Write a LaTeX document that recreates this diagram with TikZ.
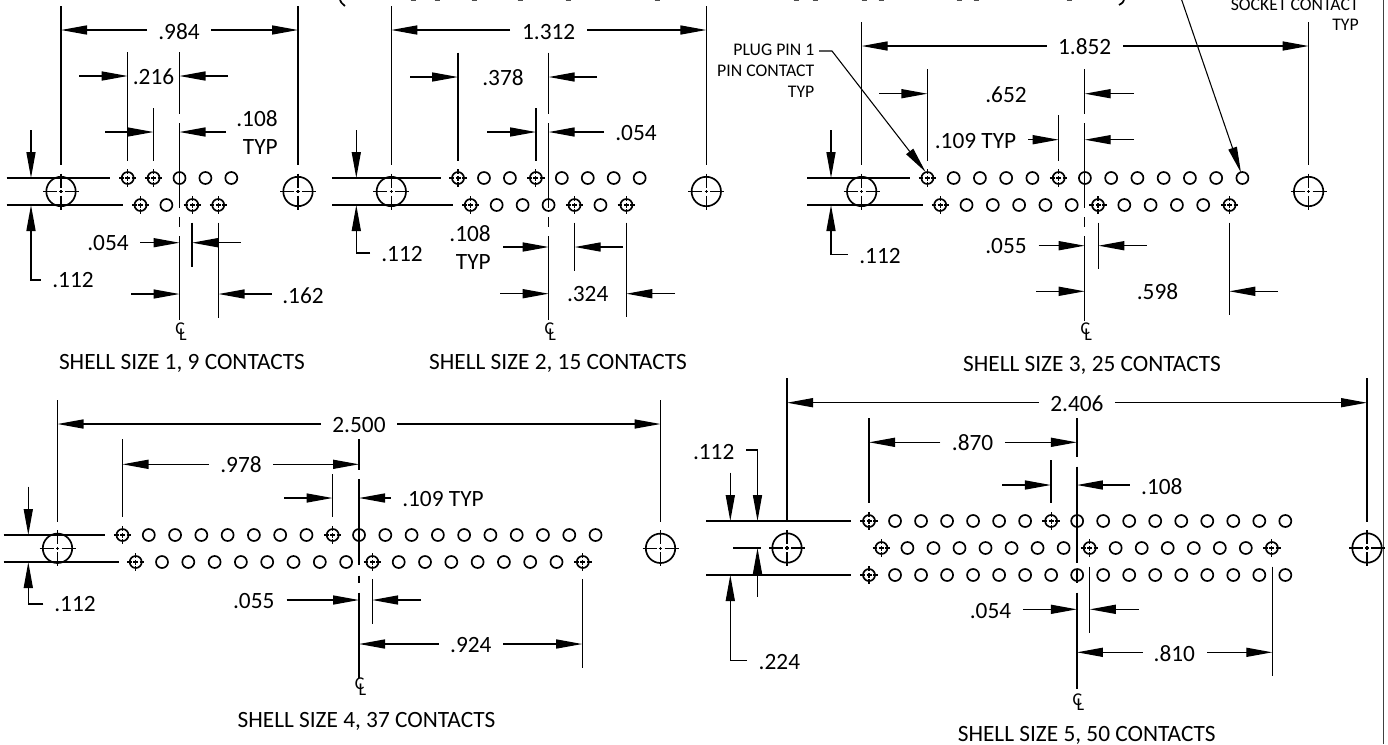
\documentclass[tikz,border=0pt]{standalone}
\usepackage{fontspec}
\setmainfont{Carlito}
\usetikzlibrary{arrows.meta}
\tikzset{
  ln/.style={line width=0.95pt,black},
  thinln/.style={line width=0.8pt,black},
  arw/.style={ln,-{Triangle[length=19.5pt,width=6.8pt]}},
  holeln/.style={line width=1.25pt,black},
  crossln/.style={line width=0.9pt,black},
  lab/.style={inner sep=0pt,font=\fontsize{17.5}{17.5}\selectfont},
  smalllab/.style={inner sep=0pt,anchor=east,font=\fontsize{13.3}{13.3}\selectfont},
  clab/.style={inner sep=0pt,font=\fontsize{13.5}{13.5}\selectfont},
}
% dimension arrow: from (x1,y1) with the tip at (x2,y2)
\newcommand{\arr}[4]{\draw[arw] (#1,#2) -- (#3,#4);}
% horizontal dimension: y, tip left, tip right, tail left, tail right
\newcommand{\hdim}[5]{\arr{#4}{#1}{#2}{#1}\arr{#5}{#1}{#3}{#1}}
\newcommand{\vln}[3]{\draw[ln] (#1,#2) -- (#1,#3);}
\newcommand{\hln}[3]{\draw[ln] (#2,#1) -- (#3,#1);}
\newcommand{\pinmark}[2]{\begin{scope}[shift={(#1,#2)}]
  \draw[crossln] (-8.7,0)--(-4,0) (4,0)--(8.7,0) (0,-8.7)--(0,-4) (0,4)--(0,8.7) (-2.5,0)--(2.5,0) (0,-2.5)--(0,2.5);
  \end{scope}}
% y, x0, pitch, n, pin indices
\newcommand{\holerow}[5]{\pgfmathsetmacro{\lastidx}{int(#4-1)}
  \foreach \i in {0,...,\lastidx}{\pgfmathsetmacro{\hx}{#2+\i*#3}\draw[holeln] (\hx,#1) circle (6);}
  \foreach \i in {#5}{\pgfmathsetmacro{\hx}{#2+\i*#3}\pinmark{\hx}{#1}}}
\newcommand{\mhole}[2]{\begin{scope}[shift={(#1,#2)}]
  \draw[holeln] (0,0) circle (14.7);
  \draw[crossln] (-18,0)--(-4,0) (4,0)--(18,0) (0,-18)--(0,-4) (0,4)--(0,18) (-1.6,0)--(1.6,0) (0,-1.6)--(0,1.6);
  \end{scope}}
% name, x, y : centre-line symbol, C and L overlapped
\newcommand{\clmark}[3]{\node[clab] (#1) at (#2+1.5,#3+1.5) {C\kern-0.32em\raisebox{-0.32em}{L}};}
\begin{document}
\begin{tikzpicture}[x=0.75pt,y=-0.75pt]
\useasboundingbox (0,0) rectangle (1388,744);
\clip (0,0) rectangle (1388,744);
\fill[white] (0,0) rectangle (1388,744);
% sheet edge and cut-off heading remains
\draw[line width=1.3pt,black!75] (1383.5,0) -- (1383.5,744);
\draw[line width=1.3pt] (340,0) .. controls (341,2.5) .. (345,6);
\draw[line width=1.3pt] (1124,0) .. controls (1123,2.5) .. (1119,5);
\foreach \hx in {413,437,474,520,568,657,796,815,864,881,959,976,1069}{\draw[line width=1.2pt,black!70] (\hx-2.5,0.3) -- (\hx+2.5,0.3);}

%% ---- Shell 1 ----
\vln{61}{6}{165}\vln{298}{6}{165}
\hdim{30}{61}{298}{147}{211}
\node[lab] (a1) at (179,32) {.984};
\vln{127.7}{52}{161}\vln{153.5}{108}{161}
\vln{179.5}{52}{114}\vln{179.5}{123}{208}\vln{179.5}{217}{227}\vln{179.5}{236}{320}
\hdim{76}{127.7}{179.5}{79}{228}
\node[lab] (a2) at (153.5,77) {.216};
\hdim{132}{153.5}{179.5}{105}{226}
\node[lab,anchor=east] (a3) at (278,119) {.108};
\node[lab,anchor=east] (a4) at (278,147) {TYP};
\hln{178}{6.5}{110}\hln{205}{6.5}{122.7}
\mhole{61}{191.5}\mhole{298}{191.5}
\holerow{178}{127.7}{25.9}{5}{0,1}
\holerow{205}{140.5}{25.9}{4}{0,2,3}
\arr{31}{130}{31}{178}
\draw[arw] (40.7,280)--(31,280)--(31,205);
\node[lab] (a5) at (73,280) {.112};
\vln{192}{222.7}{267}\vln{218.5}{222.7}{318}
\hdim{242.7}{179.5}{192}{140}{240.7}
\node[lab] (a6) at (108,243) {.054};
\hdim{294}{179.5}{218.5}{131}{271.7}
\node[lab] (a7) at (303,296) {.162};
\clmark{a8}{179.5}{330}
\node[lab] (a9) at (182,363.5) {SHELL SIZE 1, 9 CONTACTS};

%% ---- Shell 2 ----
\vln{391.3}{6}{165}\vln{706.3}{6}{165}
\hdim{30}{391.3}{706.3}{510}{587}
\node[lab] (b1) at (548.7,32) {1.312};
\vln{458}{52.7}{161}\vln{536}{108}{161}
\vln{548.7}{52.7}{114}\vln{548.7}{123}{208}\vln{548.7}{217}{227}\vln{548.7}{236}{320}
\hdim{77}{458}{548.7}{410}{597}
\node[lab] (b2) at (503,78) {.378};
\hdim{132}{536}{548.7}{487}{604}
\node[lab] (b3) at (636,133) {.054};
\hln{178}{332}{441}\hln{205}{332}{453}
\mhole{391.3}{191.5}\mhole{706.3}{191.5}
\holerow{178}{458}{25.95}{8}{0,3}
\holerow{205}{470.7}{25.95}{7}{0,4,6}
\arr{356.3}{130}{356.3}{178}
\draw[arw] (370,253)--(356.3,253)--(356.3,205);
\node[lab] (b4) at (402,254) {.112};
\vln{574.7}{222.7}{271}\vln{626.3}{222.7}{317}
\hdim{247}{548.7}{574.7}{503}{623}
\node[lab,anchor=east] (b5) at (491,234) {.108};
\node[lab,anchor=east] (b6) at (491,262) {TYP};
\hdim{293.7}{548.7}{626.3}{500}{675}
\node[lab] (b7) at (587.7,294) {.324};
\clmark{b8}{548.7}{330}
\node[lab] (b9) at (558,363.5) {SHELL SIZE 2, 15 CONTACTS};

%% ---- Shell 3 ----
\vln{861.7}{22}{165}\vln{1308.6}{22}{165}
\hdim{46}{861.7}{1308.6}{1046.8}{1123}
\node[lab] (c1) at (1084.7,47) {1.852};
\vln{927.4}{69.3}{161}\vln{1058.7}{115}{161}
\vln{1084.7}{69.3}{114}\vln{1084.7}{123}{208}\vln{1084.7}{217}{227}\vln{1084.7}{236}{321}
\hdim{93.7}{927.4}{1084.7}{879}{1134}
\node[lab] (c2) at (1006,95) {.652};
\hdim{139.7}{1058.7}{1084.7}{1028}{1134}
\node[lab] (c3) at (975.5,140.7) {.109 TYP};
\hln{178}{807}{910}\hln{205}{807}{923.4}
\mhole{861.7}{191.5}\mhole{1308.6}{191.5}
\holerow{178}{927.4}{26.25}{13}{0,5}
\holerow{205}{940.2}{26.3}{12}{0,6,11}
\arr{831}{130}{831}{178}
\draw[arw] (847.6,254.7)--(831,254.7)--(831,205);
\node[lab] (c4) at (880,256) {.112};
\vln{1098.4}{222.7}{269}\vln{1229.3}{222.7}{315}
\hdim{245.7}{1084.7}{1098.4}{1038.5}{1146.5}
\node[lab] (c5) at (1006,246) {.055};
\hdim{291.3}{1084.7}{1229.3}{1036}{1278}
\node[lab] (c6) at (1157.5,292) {.598};
\clmark{c7}{1084.7}{330}
\node[lab] (c8) at (1092,365.5) {SHELL SIZE 3, 25 CONTACTS};
\node[smalllab] (c9) at (814.6,50) {PLUG PIN 1};
\node[smalllab] (c10) at (814.6,70.7) {PIN CONTACT};
\node[smalllab] (c11) at (814.6,91.7) {TYP};
\draw[thinln,-{Triangle[length=19.5pt,width=6.6pt]}] (819,51)--(832,51)--(925.6,172);
\node[smalllab] (c12) at (1359,5) {SOCKET CONTACT};
\node[smalllab] (c13) at (1359,25) {TYP};
\draw[thinln,-{Triangle[length=19.5pt,width=6.6pt]}] (1181.7,0)--(1241,172.7);

%% ---- Shell 4 ----
\vln{57.5}{400}{521.7}\vln{660.5}{400}{521.7}
\hdim{424}{57.5}{660.5}{320.5}{397.4}
\node[lab] (d1) at (359,425) {2.500};
\vln{122.5}{439.3}{516.7}\vln{332.5}{474}{516.7}
\vln{359}{439.3}{470}\vln{359}{479.3}{565}\vln{359}{575.7}{583}\vln{359}{592.7}{678}
\hdim{464.3}{122.5}{359}{208.7}{273}
\node[lab] (d2) at (241,465) {.978};
\hdim{498}{332.5}{359}{284}{390.8}
\node[lab] (d3) at (443,499) {.109 TYP};
\hln{535}{3.5}{105}\hln{562}{3.5}{118.5}
\mhole{57.5}{548.3}\mhole{660.5}{548.3}
\holerow{535}{122.5}{26.28}{19}{0,8}
\holerow{562}{135.7}{26.3}{18}{0,9,17}
\arr{28.3}{486.7}{28.3}{535}
\draw[arw] (43.3,604)--(28.3,604)--(28.3,562);
\node[lab] (d4) at (75,604) {.112};
\vln{372.2}{579.3}{624.3}\vln{582.2}{579.3}{667.7}
\hdim{600}{359}{372.2}{286.5}{421}
\node[lab] (d5) at (253.8,601) {.055};
\hdim{644}{359}{582.2}{438.5}{503}
\node[lab] (d6) at (470.8,645.3) {.924};
\clmark{d7}{359}{685}
\node[lab] (d8) at (366.5,721) {SHELL SIZE 4, 37 CONTACTS};

%% ---- Shell 5 ----
\vln{787}{378.3}{521}\vln{1367}{378.3}{521.7}
\hdim{402.7}{787}{1367}{1038.8}{1114.9}
\node[lab] (e1) at (1076.9,404) {2.406};
\vln{869}{418.3}{503}\vln{1050.9}{460.3}{503}
\vln{1076.9}{418.3}{456.7}\vln{1076.9}{466.7}{563}\vln{1076.9}{569}{583}\vln{1076.9}{592.7}{689}
\hdim{442.3}{869}{1076.9}{940.4}{1004.8}
\node[lab] (e2) at (972.6,443) {.870};
\hdim{485}{1050.9}{1076.9}{1002}{1129.6}
\node[lab] (e3) at (1161.8,486.3) {.108};
\hln{521}{706}{851}\hln{575}{706}{851}\hln{548}{733}{760.7}
\mhole{787}{548}\mhole{1367}{548}
\holerow{521}{869}{26.02}{17}{0,7}
\holerow{548}{881.4}{26.03}{16}{0,8,15}
\holerow{575}{869}{26.02}{17}{0}
\draw[arw] (746.4,450)--(757.5,450)--(757.5,521);
\arr{757.5}{596.7}{757.5}{548}
\arr{730.3}{472.7}{730.3}{521}
\draw[arw] (747,660.7)--(730.3,660.7)--(730.3,575);
\node[lab] (e4) at (713.7,451.7) {.112};
\node[lab] (e5) at (779.4,661.7) {.224};
\vln{1089.8}{566.7}{633.3}\vln{1272.3}{566.7}{676}
\hdim{609.3}{1076.9}{1089.8}{1023}{1138.6}
\node[lab] (e6) at (990.5,611.3) {.054};
\hdim{652.3}{1076.9}{1272.3}{1142.6}{1207}
\node[lab] (e7) at (1174.3,653.7) {.810};
\clmark{e8}{1076.9}{700.7}
\node[lab] (e9) at (1086.7,735) {SHELL SIZE 5, 50 CONTACTS};
\end{tikzpicture}
\end{document}
